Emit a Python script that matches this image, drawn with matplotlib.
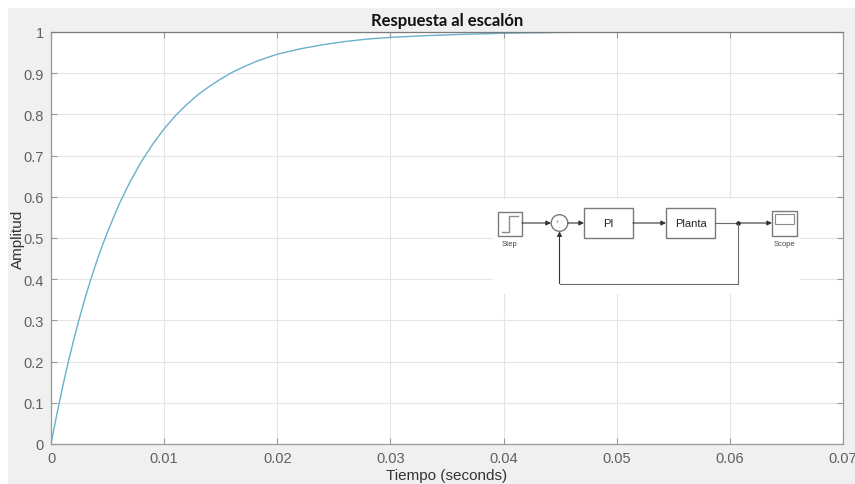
import matplotlib
matplotlib.use("Agg")
from matplotlib import pyplot as plt
from matplotlib.patches import Rectangle, Circle

# step response samples (time in s, amplitude)
t = [0, 0.0005, 0.001, 0.0015, 0.002, 0.0025, 0.003, 0.0035, 0.004, 0.0045,
     0.005, 0.006, 0.007, 0.008, 0.009, 0.010, 0.011, 0.012, 0.013, 0.014,
     0.015, 0.016, 0.017, 0.018, 0.019, 0.020, 0.022, 0.024, 0.026, 0.028,
     0.030, 0.033, 0.036, 0.040, 0.045, 0.050, 0.060, 0.070]
amp = [0, 0.070, 0.135, 0.196, 0.252, 0.304, 0.353, 0.398, 0.440, 0.479,
       0.515, 0.581, 0.637, 0.686, 0.728, 0.765, 0.797, 0.824, 0.848, 0.868,
       0.886, 0.902, 0.915, 0.927, 0.937, 0.946, 0.959, 0.969, 0.977, 0.983,
       0.987, 0.991, 0.994, 0.997, 0.999, 1.0, 1.0, 1.0]

xticks = [0, 0.01, 0.02, 0.03, 0.04, 0.05, 0.06, 0.07]
xticklabels = ["0", "0.01", "0.02", "0.03", "0.04", "0.05", "0.06", "0.07"]
yticks = [0, 0.1, 0.2, 0.3, 0.4, 0.5, 0.6, 0.7, 0.8, 0.9, 1.0]
yticklabels = ["0", "0.1", "0.2", "0.3", "0.4", "0.5", "0.6", "0.7", "0.8", "0.9", "1"]

W, H = 855, 485
plt.rcParams['font.family'] = ['Liberation Sans', 'DejaVu Sans']

fig = plt.figure(figsize=(W / 100, H / 100), dpi=100, facecolor='white')
# gray window area behind the axes
fig.patches.append(Rectangle((8 / W, 0), 1, 1 - 9 / H, transform=fig.transFigure,
                             facecolor='#f0f0f0', edgecolor='none', zorder=-10))

ax = fig.add_axes([51 / W, 40 / H, 792 / W, 412 / H])
ax.set_facecolor('white')
ax.plot(t, amp, color='#68b0cc', lw=1.0)
ax.set_xlim(0, 0.07)
ax.set_ylim(0, 1)
ax.set_xticks(xticks, xticklabels)
ax.set_yticks(yticks, yticklabels)
ax.grid(True, color='#e5e5e5', lw=0.8)
ax.set_axisbelow(True)
ax.tick_params(direction='in', length=4, width=0.8, colors='#999999',
               labelcolor='#606060', labelsize=10.5, top=True, right=True, pad=5)
for s in ax.spines.values():
    s.set_color('#9a9a9a')
    s.set_linewidth(0.9)
ax.spines['top'].set_color('#7a7a7a')
ax.set_title("Respuesta al escalón", family='Lato', fontweight='bold',
             fontsize=12, color='#111111', pad=5)
ax.set_xlabel("Tiempo (seconds)", fontsize=11, color='#333333', labelpad=2)
ax.set_ylabel("Amplitud", fontsize=11, color='#333333')
ax.yaxis.set_label_coords(-0.033, 0.5)

# block diagram overlay, in pixel coordinates
ov = fig.add_axes([0, 0, 1, 1], zorder=5)
ov.set_xlim(0, W)
ov.set_ylim(H, 0)
ov.axis('off')
ov.add_patch(Rectangle((493, 200), 307, 95, facecolor='white', edgecolor='none'))

edge = '#7a7a7a'
line = '#6a6a6a'


def block(x0, y0, x1, y1, label=None, size=8):
    ov.add_patch(Rectangle((x0 + 1.2, y0 + 1.2), x1 - x0, y1 - y0,
                           facecolor='#d8d8d8', edgecolor='none'))
    ov.add_patch(Rectangle((x0, y0), x1 - x0, y1 - y0,
                           facecolor='white', edgecolor=edge, lw=1))
    if label:
        ov.text((x0 + x1) / 2, (y0 + y1) / 2, label, ha='center', va='center',
                fontsize=size, color='#222222')


def arrow(x0, y0, x1, y1):
    ov.annotate('', xy=(x1, y1), xytext=(x0, y0),
                arrowprops=dict(arrowstyle='-|>', color='#333333', lw=0.8,
                                mutation_scale=7, shrinkA=0, shrinkB=0))


block(498, 213, 522, 237)
ov.plot([502, 509, 509, 518], [233, 233, 217, 217], color='#8a8a8a', lw=1)
ov.text(510, 245, "Step", ha='center', va='center', fontsize=5.5, color='#444444')

ov.add_patch(Circle((559.5, 224), 8.3, facecolor='white', edgecolor=edge, lw=1))
ov.text(557, 221.5, "+", ha='center', va='center', fontsize=3.5, color='#555555')
ov.text(560, 228, "-", ha='center', va='center', fontsize=3.5, color='#555555')

block(584, 209, 633, 239, "PI", 8)
block(666, 209, 715, 239, "Planta", 8)

block(772, 212, 797, 237)
ov.add_patch(Rectangle((775, 215), 19, 10, facecolor='white', edgecolor='#8a8a8a', lw=0.8))
ov.text(784, 245, "Scope", ha='center', va='center', fontsize=5.5, color='#444444')

arrow(522, 224, 551, 224)
arrow(568, 224, 584, 224)
arrow(633, 224, 666, 224)
ov.plot([715, 738], [224, 224], color=line, lw=0.8)
arrow(738, 224, 772, 224)
ov.plot([738], [224], 'o', color='#222222', ms=2.2)
ov.plot([738, 738, 559.5], [224, 284.5, 284.5], color=line, lw=0.8)
arrow(559.5, 284.5, 559.5, 232.3)

fig.savefig("out.png", dpi=100, facecolor=fig.get_facecolor())
